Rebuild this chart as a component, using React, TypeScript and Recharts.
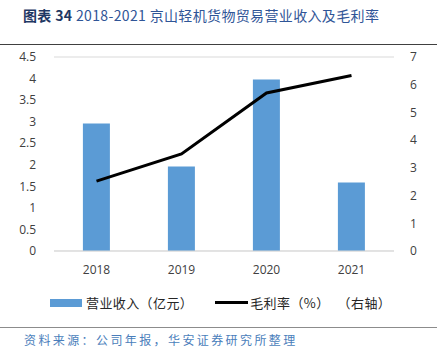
import React from "react";
import { ComposedChart, Bar, Line, XAxis, YAxis, CartesianGrid } from "recharts";

const years = ["2018", "2019", "2020", "2021"];
const revenue = [2.96, 1.96, 3.98, 1.59];
const grossMargin = [2.52, 3.5, 5.7, 6.33];
const leftTicks = [0, 0.5, 1, 1.5, 2, 2.5, 3, 3.5, 4, 4.5];
const rightTicks = [0, 1, 2, 3, 4, 5, 6, 7];

const data = years.map((year, i) => ({ year, revenue: revenue[i], margin: grossMargin[i] }));

const tickStyle = { fill: "#404040", fontSize: 12, fontFamily: "Open Sans" };
const cjk = '"Noto Sans CJK SC", sans-serif';

export default function App() {
  return (
    <div style={{ position: "absolute", left: 0, top: 0, width: 439, height: 354, background: "#fff", overflow: "hidden" }}>
      <div style={{ position: "absolute", left: 23, top: 6, fontSize: 14, fontFamily: cjk, whiteSpace: "nowrap", lineHeight: "18px", letterSpacing: 0.35 }}>
        <span style={{ color: "#1f3864", fontWeight: 700 }}>图表 34 </span>
        <span style={{ color: "#2f5597" }}>2018-2021 京山轻机货物贸易营业收入及毛利率</span>
      </div>
      <div style={{ position: "absolute", left: 0, top: 44, width: 437, height: 1, background: "#404040" }} />

      <div style={{ position: "absolute", left: 0, top: 0 }}>
        <ComposedChart width={439} height={290} data={data} margin={{ top: 57, right: 0, bottom: 9, left: 0 }} barCategoryGap="34%">
          <CartesianGrid vertical={false} stroke="#d9d9d9" />
          <XAxis dataKey="year" tick={tickStyle} tickLine={false} axisLine={{ stroke: "#d9d9d9" }} height={30} tickMargin={8} />
          <YAxis yAxisId="left" domain={[0, 4.5]} ticks={leftTicks} tick={tickStyle} tickLine={false} axisLine={false} width={54} tickMargin={12} interval={0} />
          <YAxis yAxisId="right" orientation="right" domain={[0, 7]} ticks={rightTicks} tick={tickStyle} tickLine={false} axisLine={false} width={45} tickMargin={10} interval={0} />
          <Bar yAxisId="left" dataKey="revenue" fill="#5b9bd5" isAnimationActive={false} />
          <Line yAxisId="right" dataKey="margin" type="linear" stroke="#000" strokeWidth={3} dot={false} isAnimationActive={false} />
        </ComposedChart>
      </div>

      <div style={{ position: "absolute", left: 50, top: 293, display: "flex", alignItems: "center", fontSize: 13, fontFamily: cjk, color: "#262626", whiteSpace: "nowrap", letterSpacing: 0.4 }}>
        <span style={{ display: "inline-block", width: 32, height: 8, background: "#5b9bd5", marginRight: 4 }} />
        <span>营业收入（亿元）</span>
        <span style={{ display: "inline-block", width: 33, height: 3, background: "#000", marginLeft: 22, marginRight: 2 }} />
        <span>毛利率（%）</span>
        <span style={{ marginLeft: 8 }}>（右轴）</span>
      </div>

      <div style={{ position: "absolute", left: 0, top: 327, width: 437, height: 1, background: "#8c8c8c" }} />
      <div style={{ position: "absolute", left: 24, top: 331, fontSize: 12, fontFamily: cjk, color: "#4a7ebb", whiteSpace: "nowrap", letterSpacing: 2.4 }}>
        资料来源：公司年报，华安证券研究所整理
      </div>
    </div>
  );
}
